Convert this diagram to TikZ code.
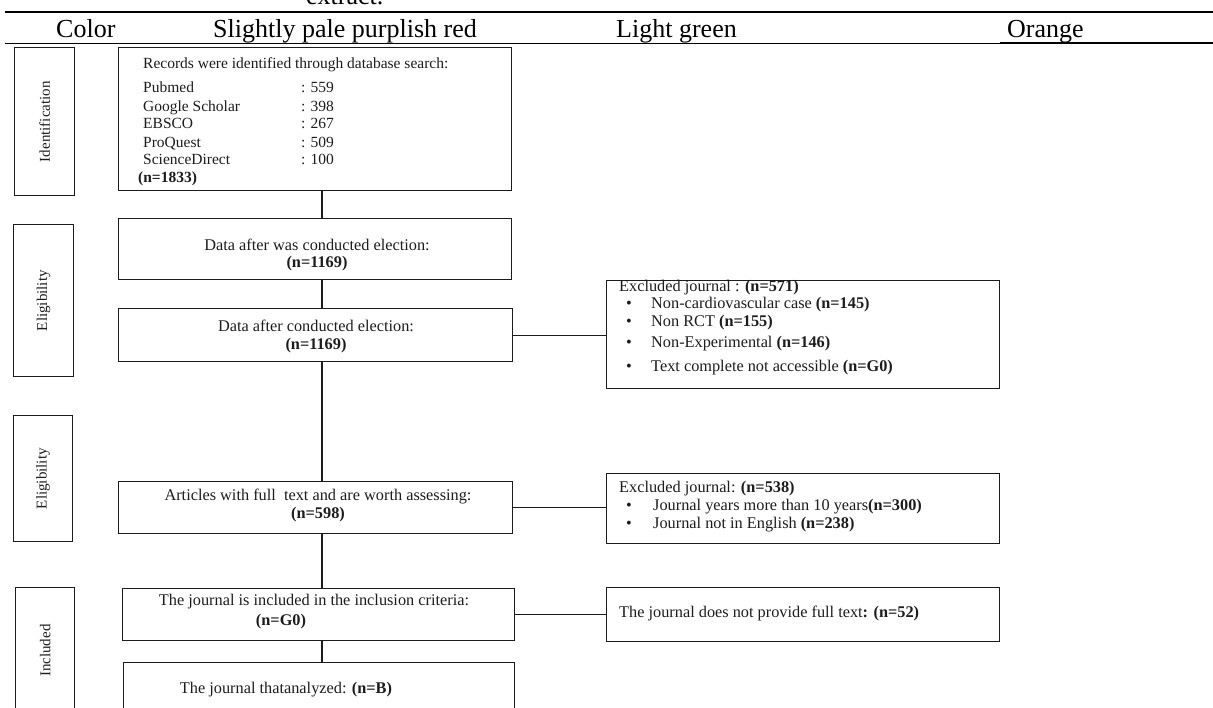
\documentclass[tikz,border=0pt]{standalone}
\usepackage{fontspec}
\setmainfont{Liberation Serif}
\usepackage{tikz}
\usetikzlibrary{positioning}
\definecolor{ink}{HTML}{1C1C1C}

\tikzset{
  box/.style={draw=ink,line width=1.3pt,anchor=north west,inner sep=0pt},
  link/.style={draw=ink,line width=1.3pt},
  txt/.style={inner sep=0pt,text=ink,font=\fontsize{16.3}{17}\selectfont},
  small/.style={inner sep=0pt,text=ink,font=\fontsize{15.5}{16}\selectfont},
  head/.style={inner sep=0pt,text=black,font=\fontsize{26}{28}\selectfont,anchor=base west},
  stage/.style={inner sep=0pt,text=ink,font=\fontsize{15}{16}\selectfont,rotate=90},
}

\begin{document}
\begin{tikzpicture}[x=1pt,y=-1pt]
\useasboundingbox (0,0) rectangle (1213,707);
% table head above the chart
\node[head] (hext) at (306,4) {extract.};
\draw[black,line width=1.7pt] (5,12) -- (1213,12);
\node[head] (hcol) at (56,37) {Color};
\node[head] (hred) at (213,37) {Slightly pale purplish red};
\node[head] (hgrn) at (616,37) {Light green};
\node[head] (horg) at (1007,37) {Orange};
\draw[black,line width=0.8pt] (5,43) -- (1000,43);
\draw[black,line width=1.7pt] (1000,43) -- (1213,43);

% stage boxes on the left
\node[box,minimum width=60pt,minimum height=148pt] (sid) at (14,47) {};
\node[stage] (lid) at (sid.center) {Identification};
\node[box,minimum width=60pt,minimum height=152pt] (sel) at (13,224) {};
\node[stage] (lel) at (sel.center) {Eligibility};
\node[box,minimum width=59pt,minimum height=126pt] (sel2) at (13,415) {};
\node[stage] (lel2) at (sel2.center) {Eligibility};
\node[box,minimum width=59pt,minimum height=126pt] (sinc) at (15,587) {};
\node[stage] (linc) at (sinc.center) {Included};

% main column
\node[box,minimum width=393pt,minimum height=143pt] (rec) at (118,47) {};
\node[small,anchor=base west] (rhead) at (143,68) {Records were identified through database search:};
\foreach \db/\num/\yy [count=\k] in {Pubmed/559/92, Google Scholar/398/111, EBSCO/267/128, ProQuest/509/147, ScienceDirect/100/164} {
  \node[small,anchor=base west] (db\k) at (143,\yy) {\db};
  \node[small,anchor=base west] (nb\k) at (301,\yy) {: \num};
}
\node[small,anchor=base west] (rtot) at (138,182) {\textbf{(n=1833)}};

\node[box,minimum width=393pt,minimum height=61pt] (scr1) at (118,218) {};
\node[txt,align=center] (tscr1) at (317,255) {Data after was conducted election:\\\textbf{(n=1169)}};
\node[box,minimum width=394pt,minimum height=53pt] (scr2) at (118,308) {};
\node[txt,align=center,font=\fontsize{16.3}{18}\selectfont] (tscr2) at (316,336) {Data after conducted election:\\\textbf{(n=1169)}};
\node[box,minimum width=394pt,minimum height=52pt] (full) at (118,481) {};
\node[txt,align=center,font=\fontsize{16.3}{18}\selectfont] (tfull) at (318,505) {Articles with full\ \ text and are worth assessing:\\\textbf{(n=598)}};
\node[box,minimum width=392pt,minimum height=52pt] (inc) at (122,588) {};
\node[txt] (tinc) at (314,602) {The journal is included in the inclusion criteria:};
\node[txt] (ninc) at (281,622) {\textbf{(n=G0)}};
\node[box,minimum width=391pt,minimum height=61pt] (ana) at (123,662) {};
\node[txt] (tana) at (286,690) {The journal thatanalyzed: \textbf{(n=B)}};

% excluded boxes on the right
\node[box,minimum width=393pt,minimum height=108pt] (exa) at (606,280) {};
\node[txt,anchor=base west] (hexa) at (619,291) {Excluded journal : \textbf{(n=571)}};
\foreach \entry/\yy [count=\k] in {{Non-cardiovascular case \textbf{(n=145)}}/308, {Non RCT \textbf{(n=155)}}/326, {Non-Experimental \textbf{(n=146)}}/347, {Text complete not accessible \textbf{(n=G0)}}/371} {
  \node[txt,anchor=base] (ba\k) at (629,\yy) {\textbullet};
  \node[txt,anchor=base west] (ea\k) at (651,\yy) {\entry};
}
\node[box,minimum width=393pt,minimum height=70pt] (exb) at (606,473) {};
\node[txt,anchor=base west] (hexb) at (619,492) {Excluded journal: \textbf{(n=538)}};
\foreach \entry/\yy [count=\k] in {{Journal years more than 10 years\textbf{(n=300)}}/510, {Journal not in English \textbf{(n=238)}}/528} {
  \node[txt,anchor=base] (bb\k) at (629,\yy) {\textbullet};
  \node[txt,anchor=base west] (eb\k) at (653,\yy) {\entry};
}
\node[box,minimum width=393pt,minimum height=54pt] (exc) at (606,587) {};
\node[txt,anchor=west] (texc) at (619,613) {The journal does not provide full text\textbf{: (n=52)}};

% connectors
\coordinate (spine) at (322,0);
\draw[link] (spine |- rec.south) -- (spine |- scr1.north);
\draw[link] (spine |- scr1.south) -- (spine |- scr2.north);
\draw[link] (spine |- scr2.south) -- (spine |- full.north);
\draw[link] (spine |- full.south) -- (spine |- inc.north);
\draw[link] (spine |- inc.south) -- (spine |- ana.north);
\draw[link] (scr2.east) -- (scr2.east -| exa.west);
\draw[link] (full.east) -- (full.east -| exb.west);
\draw[link] (inc.east) -- (inc.east -| exc.west);
\end{tikzpicture}
\end{document}
